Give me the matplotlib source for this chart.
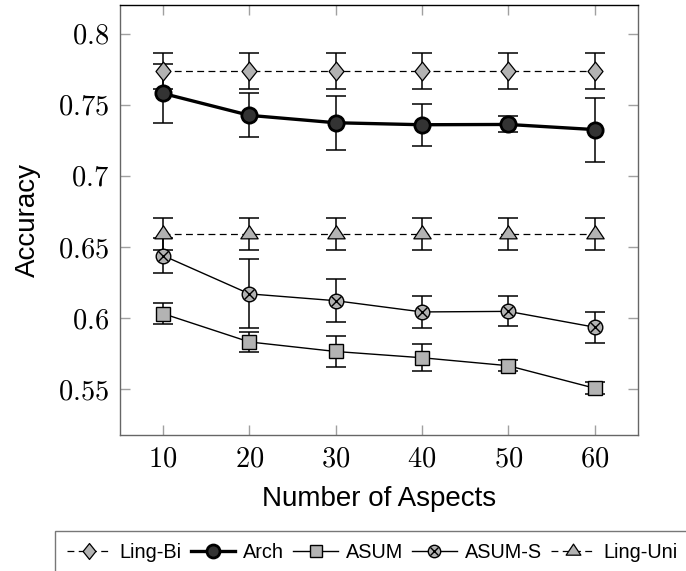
import numpy as np
import matplotlib
matplotlib.use("Agg")
import matplotlib.pyplot as plt
from matplotlib.path import Path
from matplotlib.ticker import FuncFormatter

plt.rcParams['font.family'] = ['Liberation Sans', 'DejaVu Sans']
plt.rcParams['mathtext.fontset'] = 'cm'

# data
aspects = [10, 20, 30, 40, 50, 60]
ling_bi = [0.774, 0.774, 0.774, 0.774, 0.774, 0.774]
ling_bi_err = [0.0127, 0.0127, 0.0127, 0.0127, 0.0127, 0.0127]
arch = [0.758, 0.7426, 0.7374, 0.736, 0.7362, 0.7326]
arch_err = [0.021, 0.0155, 0.019, 0.0146, 0.0056, 0.0225]
asum = [0.6032, 0.5833, 0.5766, 0.5722, 0.5666, 0.5508]
asum_err = [0.0076, 0.0068, 0.011, 0.0095, 0.004, 0.004]
asum_s = [0.6440, 0.6171, 0.6123, 0.6044, 0.6048, 0.5937]
asum_s_err = [0.0122, 0.0243, 0.015, 0.0115, 0.0105, 0.011]
ling_uni = [0.659, 0.659, 0.659, 0.659, 0.659, 0.659]
ling_uni_err = [0.0114, 0.0114, 0.0114, 0.0114, 0.0114, 0.0114]

x_ticks = [10, 20, 30, 40, 50, 60]
y_ticks = [0.55, 0.6, 0.65, 0.7, 0.75, 0.8]

light = '#b3b3b3'
dark = '#333333'

diamond = Path([(0, 1), (0.8, 0), (0, -1), (-0.8, 0), (0, 1)],
               [Path.MOVETO, Path.LINETO, Path.LINETO, Path.LINETO, Path.CLOSEPOLY])
triangle = Path([(0, 1), (1.0, -0.5), (-1.0, -0.5), (0, 1)],
                [Path.MOVETO, Path.LINETO, Path.LINETO, Path.CLOSEPOLY])

fig = plt.figure(figsize=(6.86, 5.71), dpi=100)
ax = fig.add_axes([0.1749, 0.2377, 0.7547, 0.7531])

err_kw = dict(fmt='none', ecolor='black', elinewidth=1.1, capsize=7, capthick=1.1, zorder=2)
for y, e in [(ling_bi, ling_bi_err), (arch, arch_err), (asum, asum_err),
             (asum_s, asum_s_err), (ling_uni, ling_uni_err)]:
    ax.errorbar(aspects, y, yerr=e, **err_kw)

h_bi, = ax.plot(aspects, ling_bi, color='black', lw=0.9, dashes=(5.5, 3.5),
                marker=diamond, ms=13.5, mfc=light, mec='black', mew=0.9, zorder=3)
h_arch, = ax.plot(aspects, arch, color='black', lw=2.4,
                  marker='o', ms=11, mfc=dark, mec='black', mew=2, zorder=3)
h_asum, = ax.plot(aspects, asum, color='black', lw=1.0,
                  marker='s', ms=10.5, mfc=light, mec='black', mew=1.0, zorder=3)
h_asums, = ax.plot(aspects, asum_s, color='black', lw=1.0,
                   marker='o', ms=10.5, mfc=light, mec='black', mew=1.0, zorder=3)
h_x, = ax.plot(aspects, asum_s, ls='none', marker='x', ms=7.2, mec='black', mew=1.0, zorder=4)
h_uni, = ax.plot(aspects, ling_uni, color='black', lw=0.9, dashes=(5.5, 3.5),
                 marker=triangle, ms=12.5, mfc=light, mec='black', mew=0.9, zorder=3)

ax.set_xlim(5, 65)
ax.set_ylim(0.5177, 0.820)
ax.set_xticks(x_ticks)
ax.set_yticks(y_ticks)
fmt = FuncFormatter(lambda v, p: r'$%g$' % round(v, 2))
ax.xaxis.set_major_formatter(fmt)
ax.yaxis.set_major_formatter(fmt)
ax.tick_params(direction='in', length=7.5, width=1.0, color='#a0a0a0',
               top=True, right=True, labelsize=20.5, pad=8)

for side in ['left', 'right', 'bottom']:
    ax.spines[side].set_color('#666666')
ax.spines['top'].set_color('black')
for s in ax.spines.values():
    s.set_linewidth(1.0)

ax.set_xlabel('Number of Aspects', fontsize=20)
ax.set_ylabel('Accuracy', fontsize=20)
ax.xaxis.set_label_coords(0.5, -0.117)
ax.yaxis.set_label_coords(-0.152, 0.5)

leg = fig.legend([h_bi, h_arch, h_asum, (h_asums, h_x), h_uni],
                 ['Ling-Bi', 'Arch', 'ASUM', 'ASUM-S', 'Ling-Uni'],
                 loc='upper left', bbox_to_anchor=(55 / 686, 1 - 531 / 571),
                 ncol=5, fontsize=14.3, frameon=True, fancybox=False,
                 handlelength=2.25, handletextpad=0.4, columnspacing=0.45,
                 borderpad=0.6, borderaxespad=0, markerscale=0.85)
leg.get_frame().set_edgecolor('#555555')
leg.get_frame().set_linewidth(1.0)

fig.savefig('out.png', dpi=100)
